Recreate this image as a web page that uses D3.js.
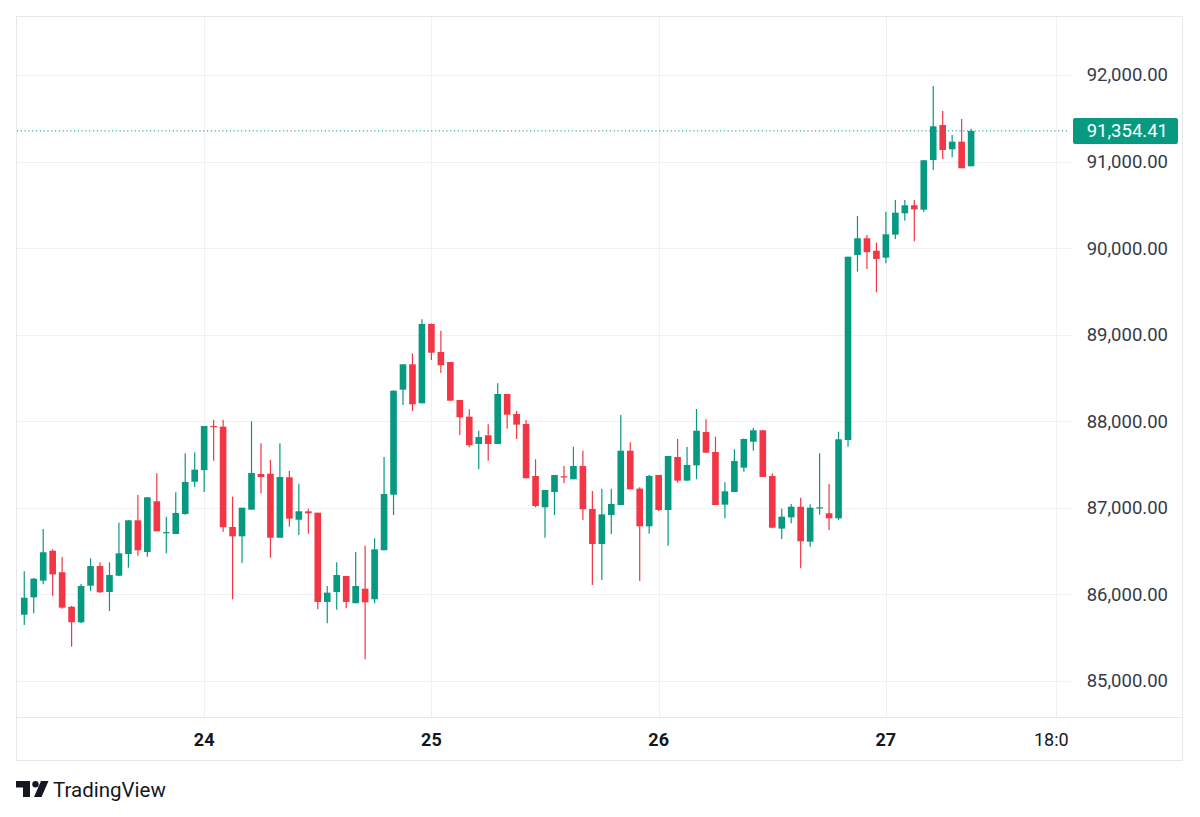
<!DOCTYPE html>
<html>
<head>
    <script src="https://d3js.org/d3.v7.min.js"></script>
    <style>
        body { margin: 0; background: #fff; }
        text { font-family: Roboto, "Open Sans", sans-serif; }
    </style>
</head>
<body>

<script>
// hourly BTC candles, first one opens 23 Nov 05:00
const firstCandle = Date.UTC(2025, 10, 23, 5);

const opens = [85766, 85966, 86159, 86505, 86256, 85858, 85678, 86101, 86328, 86028,
    86216, 86467, 86856, 86490, 87076, 86710, 86698, 86929, 87302, 87436,
    87946, 87938, 86779, 86671, 86979, 87391, 87395, 86655, 87353, 86863,
    86960, 86944, 85913, 86028, 86213, 85898, 86066, 85944, 86510, 87152,
    88365, 88658, 88208, 89124, 88800, 88685, 88246, 88053, 87738, 87838,
    87738, 88315, 88084, 87969, 87368, 87006, 87183, 87365, 87330, 87483,
    86987, 86582, 86917, 87033, 87660, 87222, 86787, 87380, 86975, 87587,
    87314, 87491, 87876, 87645, 87037, 87183, 87464, 87764, 87896, 87368,
    86760, 86890, 87013, 86609, 86996, 86937, 86879, 87784, 89921, 90114,
    89970, 89890, 90156, 90402, 90495, 90444, 91018, 91422, 91142, 91230,
    90946];
const highs = [86267, 86190, 86756, 86521, 86432, 85866, 86120, 86417, 86371, 86371,
    86829, 86860, 87148, 87125, 87399, 86898, 87180, 87630, 87642, 87946,
    88015, 88015, 87129, 87002, 88000, 87745, 87553, 87745, 87426, 87279,
    86990, 86944, 86097, 86371, 86213, 86490, 86563, 86648, 87587, 88358,
    88658, 88785, 89178, 89130, 89046, 88685, 88246, 88138, 87891, 87965,
    88439, 88315, 88119, 88015, 87561, 87206, 87380, 87483, 87706, 87660,
    87195, 87222, 87222, 88073, 87757, 87237, 87380, 87380, 87599, 87795,
    87703, 88142, 88023, 87822, 87295, 87676, 87800, 87922, 87896, 87399,
    86990, 87044, 87117, 87041, 87630, 87276, 87880, 89901, 90371, 90152,
    90063, 90421, 90556, 90556, 90556, 91018, 91872, 91584, 91307, 91492,
    91380];
const lows = [85647, 85782, 86117, 85985, 85835, 85396, 85670, 86040, 86017, 85809,
    86213, 86309, 86447, 86436, 86729, 86475, 86698, 86921, 87241, 87183,
    87545, 86725, 85944, 86363, 86979, 87168, 86424, 86655, 86782, 86686,
    86701, 85828, 85666, 85824, 85840, 85898, 85251, 85898, 86510, 86917,
    88188, 88119, 88208, 88708, 88558, 88238, 87842, 87700, 87445, 87545,
    87738, 87914, 87795, 87342, 87006, 86655, 86917, 87284, 87330, 86860,
    86109, 86167, 86698, 87033, 87214, 86155, 86701, 86964, 86563, 87291,
    87314, 87330, 87637, 87033, 86879, 87183, 87418, 87660, 87356, 86765,
    86640, 86822, 86302, 86551, 86921, 86744, 86860, 87707, 89728, 89759,
    89490, 89825, 90105, 90317, 90079, 90417, 90902, 91030, 91049, 90923,
    90946];
const closes = [85962, 86182, 86487, 86232, 85847, 85678, 86097, 86328, 86025, 86224,
    86475, 86856, 86510, 87122, 86729, 86720, 86941, 87299, 87441, 87946,
    87935, 86776, 86671, 87002, 87403, 87356, 86655, 87356, 86875, 86960,
    86937, 85913, 86020, 86224, 85913, 86097, 85909, 86521, 87160, 88353,
    88658, 88196, 89124, 88792, 88647, 88238, 88046, 87723, 87818, 87738,
    88315, 88076, 87961, 87342, 87021, 87206, 87380, 87355, 87483, 86983,
    86582, 86925, 87045, 87660, 87214, 86787, 87368, 86975, 87599, 87314,
    87495, 87891, 87637, 87033, 87191, 87541, 87795, 87896, 87356, 86771,
    86898, 87013, 86614, 87002, 87006, 86879, 87792, 89901, 90114, 89953,
    89875, 90160, 90410, 90495, 90448, 91015, 91407, 91134, 91230, 90923,
    91354.41];

const priceTicks = [85000, 86000, 87000, 88000, 89000, 90000, 91000, 92000];
const timeTicks = [Date.UTC(2025, 10, 24), Date.UTC(2025, 10, 25), Date.UTC(2025, 10, 26),
    Date.UTC(2025, 10, 27), Date.UTC(2025, 10, 27, 18)];

const upColor = '#089981';
const downColor = '#f23645';

const candles = opens.map((o, i) => ({
    time: new Date(firstCandle + i * 3600 * 1000),
    open: o, high: highs[i], low: lows[i], close: closes[i]
}));

drawChart(candles);

function drawChart(data) {
    const W = 1200, H = 817;
    const left = 17, right = 1068, top = 17, bottom = 717;
    const axisBottom = 760, axisRight = 1182;

    const svg = d3.select('body').append('svg')
        .attr('width', W)
        .attr('height', H);

    const x = d3.scaleUtc()
        .domain([new Date(Date.UTC(2025, 10, 23, 4, 14)), new Date(Date.UTC(2025, 10, 27, 19, 14))])
        .range([left, right]);

    const y = d3.scaleLinear()
        .domain([84584, 92670])
        .range([bottom, top]);

    const step = x(new Date(firstCandle + 3600 * 1000)) - x(new Date(firstCandle));
    const bodyW = step * 0.7;

    svg.append('clipPath').attr('id', 'plotClip')
        .append('rect').attr('x', left).attr('y', top)
        .attr('width', right - left).attr('height', axisBottom - top);

    // grid
    svg.append('g').selectAll('line')
        .data(priceTicks)
        .join('line')
        .attr('x1', left).attr('x2', right + 3)
        .attr('y1', d => Math.round(y(d)) + 0.5).attr('y2', d => Math.round(y(d)) + 0.5)
        .attr('stroke', '#f0f1f4');

    svg.append('g').selectAll('line')
        .data(timeTicks)
        .join('line')
        .attr('x1', d => Math.round(x(d)) + 0.5).attr('x2', d => Math.round(x(d)) + 0.5)
        .attr('y1', top).attr('y2', bottom)
        .attr('stroke', '#f0f1f4');

    // frame
    svg.append('rect')
        .attr('x', left - 0.5).attr('y', top - 0.5)
        .attr('width', axisRight - left + 1).attr('height', axisBottom - top + 1)
        .attr('fill', 'none').attr('stroke', '#e6e8ee');
    svg.append('line')
        .attr('x1', left).attr('x2', axisRight)
        .attr('y1', bottom + 0.5).attr('y2', bottom + 0.5)
        .attr('stroke', '#e6e8ee');

    // candles
    const g = svg.append('g');
    g.selectAll('line.wick')
        .data(data)
        .join('line')
        .attr('class', 'wick')
        .attr('x1', d => x(d.time)).attr('x2', d => x(d.time))
        .attr('y1', d => y(d.high)).attr('y2', d => y(d.low))
        .attr('stroke', d => d.close >= d.open ? upColor : downColor)
        .attr('stroke-width', 1.2);

    g.selectAll('rect.body')
        .data(data)
        .join('rect')
        .attr('class', 'body')
        .attr('x', d => x(d.time) - bodyW / 2)
        .attr('width', bodyW)
        .attr('y', d => y(Math.max(d.open, d.close)))
        .attr('height', d => Math.max(1.2, Math.abs(y(d.open) - y(d.close))))
        .attr('fill', d => d.close >= d.open ? upColor : downColor);

    // last price line
    const last = data[data.length - 1];
    svg.append('line')
        .attr('x1', left).attr('x2', right)
        .attr('y1', y(last.close)).attr('y2', y(last.close))
        .attr('stroke', upColor)
        .attr('stroke-dasharray', '1.2 2.6');

    // price axis
    svg.append('g').selectAll('text')
        .data(priceTicks)
        .join('text')
        .attr('x', 1168)
        .attr('y', d => y(d))
        .attr('dy', '0.35em')
        .attr('text-anchor', 'end')
        .attr('font-size', 18.5)
        .attr('fill', '#363a45')
        .text(d => d3.format(',.2f')(d));

    svg.append('rect')
        .attr('x', 1073).attr('y', y(last.close) - 13)
        .attr('width', 105).attr('height', 26)
        .attr('rx', 2)
        .attr('fill', upColor);
    svg.append('text')
        .attr('x', 1168)
        .attr('y', y(last.close))
        .attr('dy', '0.35em')
        .attr('text-anchor', 'end')
        .attr('font-size', 18.5)
        .attr('fill', '#fff')
        .text(d3.format(',.2f')(last.close));

    // time axis
    svg.append('g')
        .attr('clip-path', 'url(#plotClip)')
        .selectAll('text')
        .data(timeTicks)
        .join('text')
        .attr('x', d => x(d))
        .attr('y', 740)
        .attr('dy', '0.35em')
        .attr('text-anchor', 'middle')
        .attr('font-size', 18)
        .attr('font-weight', d => new Date(d).getUTCHours() === 0 ? 'bold' : 'normal')
        .attr('fill', '#131722')
        .text(d => new Date(d).getUTCHours() === 0 ? d3.utcFormat('%-d')(new Date(d)) : d3.utcFormat('%H:%M')(new Date(d)));

    // TradingView mark
    const logo = svg.append('g').attr('transform', 'translate(16,781)').attr('fill', '#131722');
    logo.append('path').attr('d', 'M0 0H14V16H7V6.5H0Z');
    logo.append('circle').attr('cx', 19.5).attr('cy', 3.2).attr('r', 3.2);
    logo.append('path').attr('d', 'M25 0H32.5L25.5 16H18Z');
    svg.append('text')
        .attr('x', 53).attr('y', 797)
        .attr('font-size', 20.5)
        .attr('fill', '#131722')
        .text('TradingView');
}
</script>

</body>
</html>
